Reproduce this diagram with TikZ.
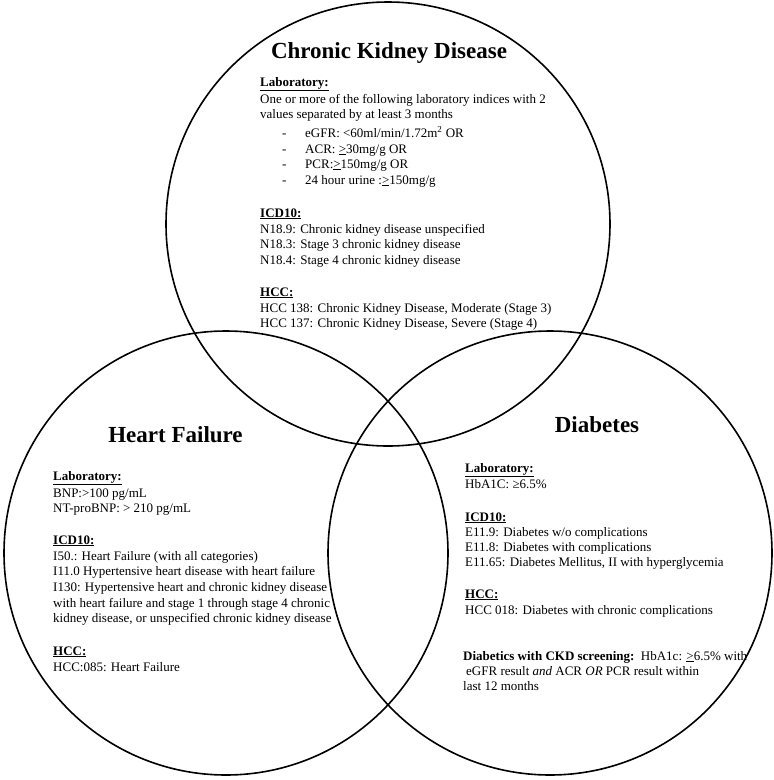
\documentclass[tikz,border=0pt]{standalone}
\usepackage{fontspec}
\setmainfont{Liberation Serif}
\newcommand{\myline}[4]{\node[txt] (#1) at (#2,#3) {#4};}
\begin{document}
\begin{tikzpicture}[x=1pt,y=-1pt,
  ring/.style={draw=black,line width=1.6pt},
  txt/.style={anchor=base west,inner sep=0pt,font=\fontsize{13}{15.5}\selectfont},
  ttl/.style={anchor=base,inner sep=0pt,font=\fontsize{23}{27}\selectfont\bfseries},
  hd/.style={txt,font=\fontsize{13}{15.5}\selectfont\bfseries}]
\useasboundingbox (0,0) rectangle (774,780);
\fill[white] (0,0) rectangle (774,780);
\draw[ring] (388,224) circle[radius=222pt];
\draw[ring] (226,553) circle[radius=222pt];
\draw[ring] (550,553) circle[radius=222pt];

% Chronic Kidney Disease
\node[ttl] (ckdt) at (389,58) {Chronic Kidney Disease};
\node[hd] (ckdlab) at (260,86) {\underline{Laboratory:}};
\myline{ckd1}{260}{103}{One or more of the following laboratory indices with 2}
\myline{ckd2}{260}{118}{values separated by at least 3 months}
\myline{ckdd1}{282}{137}{-}
\myline{ckdb1}{305}{137}{eGFR: <60ml/min/1.72m\textsuperscript{2} OR}
\myline{ckdd2}{282}{153}{-}
\myline{ckdb2}{305}{153}{ACR: \underline{>}30mg/g OR}
\myline{ckdd3}{282}{168}{-}
\myline{ckdb3}{305}{168}{PCR:\underline{>}150mg/g OR}
\myline{ckdd4}{282}{184}{-}
\myline{ckdb4}{305}{184}{24 hour urine :\underline{>}150mg/g}
\node[hd] (ckdicd) at (260,217) {\underline{ICD10:}};
\myline{ckdi1}{260}{233}{N18.9: Chronic kidney disease unspecified}
\myline{ckdi2}{260}{248}{N18.3: Stage 3 chronic kidney disease}
\myline{ckdi3}{260}{264}{N18.4: Stage 4 chronic kidney disease}
\node[hd] (ckdhcc) at (260,296) {\underline{HCC:}};
\myline{ckdh1}{260}{312}{HCC 138: Chronic Kidney Disease, Moderate (Stage 3)}
\myline{ckdh2}{260}{327}{HCC 137: Chronic Kidney Disease, Severe (Stage 4)}

% Heart Failure
\node[ttl] (hft) at (175.5,442) {Heart Failure};
\node[hd] (hflab) at (53,480) {\underline{Laboratory:}};
\myline{hf1}{53}{497}{BNP:>100 pg/mL}
\myline{hf2}{53}{512}{NT-proBNP: > 210 pg/mL}
\node[hd] (hficd) at (53,544) {\underline{ICD10:}};
\myline{hfi1}{53}{560}{I50.: Heart Failure (with all categories)}
\myline{hfi2}{53}{575}{I11.0 Hypertensive heart disease with heart failure}
\myline{hfi3}{53}{591}{I130: Hypertensive heart and chronic kidney disease}
\myline{hfi4}{53}{607}{with heart failure and stage 1 through stage 4 chronic}
\myline{hfi5}{53}{622}{kidney disease, or unspecified chronic kidney disease}
\node[hd] (hfhcc) at (53,655) {\underline{HCC:}};
\myline{hfh1}{53}{671}{HCC:085: Heart Failure}

% Diabetes
\node[ttl] (dmt) at (597,432) {Diabetes};
\node[hd] (dmlab) at (465,472) {\underline{Laboratory:}};
\myline{dm1}{465}{488}{HbA1C: ≥6.5\%}
\node[hd] (dmicd) at (465,521) {\underline{ICD10:}};
\myline{dmi1}{465}{536}{E11.9: Diabetes w/o complications}
\myline{dmi2}{465}{551}{E11.8: Diabetes with complications}
\myline{dmi3}{465}{566}{E11.65: Diabetes Mellitus, II with hyperglycemia}
\node[hd] (dmhcc) at (465,598) {\underline{HCC:}};
\myline{dmh1}{465}{614}{HCC 018: Diabetes with chronic complications}
\myline{dms1}{463}{660}{\textbf{Diabetics with CKD screening:}\ \ HbA1c: \underline{>}6.5\% with}
\myline{dms2}{466}{675}{eGFR result \textit{and} ACR \textit{OR} PCR result within}
\myline{dms3}{463}{690}{last 12 months}
\end{tikzpicture}
\end{document}
